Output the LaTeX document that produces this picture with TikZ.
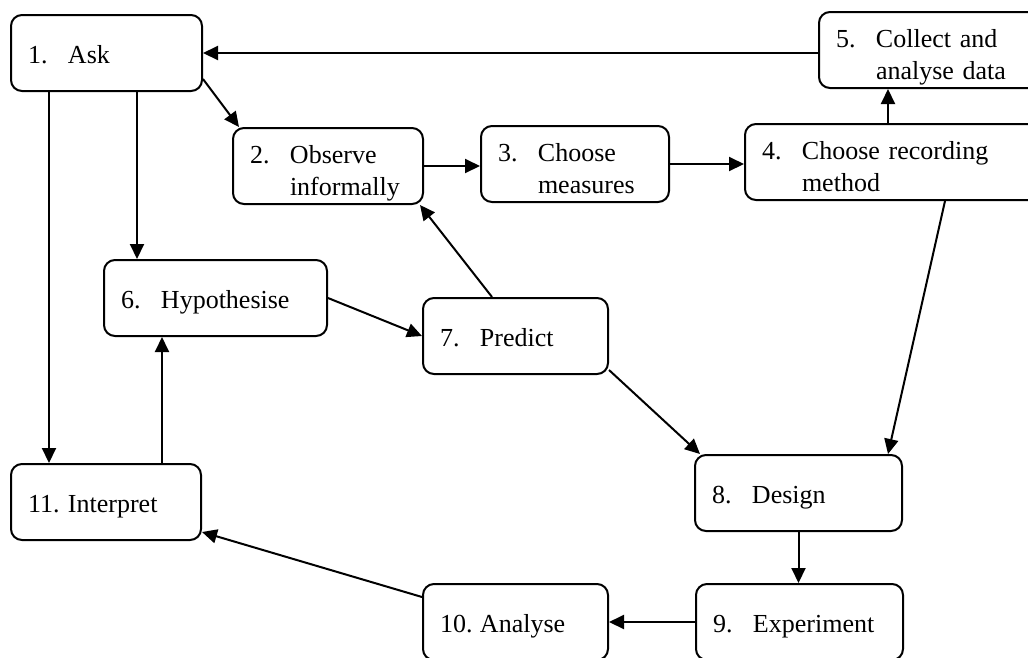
\documentclass[tikz,border=0pt]{standalone}
\usepackage{fontspec}
\setmainfont{Liberation Serif}
\usetikzlibrary{arrows.meta,calc}
\newcommand\numit[2]{\makebox[40pt][l]{#1}#2}
\begin{document}
\begin{tikzpicture}[x=1pt,y=-1pt,
  box/.style={draw, line width=2pt, rounded corners=11pt, anchor=north west,
    inner xsep=17pt, inner ysep=0pt, align=left,
    font=\fontsize{26pt}{32pt}\selectfont},
  one/.style={text height=48pt, text depth=28pt},
  two/.style={text height=35pt, text depth=41pt},
  arr/.style={line width=2pt, -{Triangle[length=15pt,width=14pt]}}]
\useasboundingbox (0,0) rectangle (1028,657);
\clip (0,0) rectangle (1028,657);
\node[box,one,text width=157pt] (ask) at (10,14) {\numit{1.}{Ask}};
\node[box,two,text width=156pt] (obs) at (232,127) {\numit{2.}{Observe}\\\hspace*{40pt}informally};
\node[box,two,text width=154pt] (meas) at (480,125) {\numit{3.}{Choose}\\\hspace*{40pt}measures};
\node[box,two,text width=266pt] (rec) at (744,123) {\numit{4.}{Choose recording}\\\hspace*{40pt}method};
\node[box,two,text width=191pt] (coll) at (818,11) {\numit{5.}{Collect and}\\\hspace*{40pt}analyse data};
\node[box,one,text width=189pt] (hyp) at (103,259) {\numit{6.}{Hypothesise}};
\node[box,one,text width=151pt] (pred) at (422,297) {\numit{7.}{Predict}};
\node[box,one,text width=173pt] (design) at (694,454) {\numit{8.}{Design}};
\node[box,one,text width=173pt] (exp) at (695,583) {\numit{9.}{Experiment}};
\node[box,one,text width=151pt] (anal) at (422,583) {\numit{10.}{Analyse}};
\node[box,one,text width=156pt] (interp) at (10,463) {\numit{11.}{Interpret}};
% helper coordinates on borders
\coordinate (hA) at ($(hyp.north west)+(34,0)$);
\coordinate (iA) at ($(interp.north west)+(39,0)$);
\coordinate (iB) at ($(interp.north west)+(152,0)$);
\coordinate (rA) at ($(rec.north west)+(144,0)$);
\coordinate (rB) at ($(rec.south west)+(201,0)$);
\coordinate (dA) at ($(design.north west)+(194,0)$);
\coordinate (dB) at ($(design.north west)+(6,0)$);
\coordinate (pA) at ($(pred.north west)+(70,0)$);
% connectors
\draw[arr] (ask.east -| coll.west) -- (ask.east);
\draw[arr] ($(ask.south east)+(0,-13)$) -- ($(obs.north west)+(7,0)$);
\draw[arr] (ask.south -| hA) -- (hA);
\draw[arr] (ask.south -| iA) -- (iA);
\draw[arr] (iB) -- (hyp.south -| iB);
\draw[arr] (obs.east) -- (obs.east -| meas.west);
\draw[arr] (meas.east) -- (meas.east -| rec.west);
\draw[arr] (rA) -- (coll.south -| rA);
\draw[arr] (rB) -- (dA);
\draw[arr] (pA) -- ($(obs.south east)+(-4,0)$);
\draw[arr] (hyp.east) -- (pred.west);
\draw[arr] ($(pred.south east)+(0,-5)$) -- (dB);
\draw[arr] (design.south) -- (exp.north -| design.south);
\draw[arr] (exp.west) -- (exp.west -| anal.east);
\draw[arr] ($(anal.north west)+(0,14)$) -- ($(interp.south east)+(0,-9)$);
\end{tikzpicture}
\end{document}
